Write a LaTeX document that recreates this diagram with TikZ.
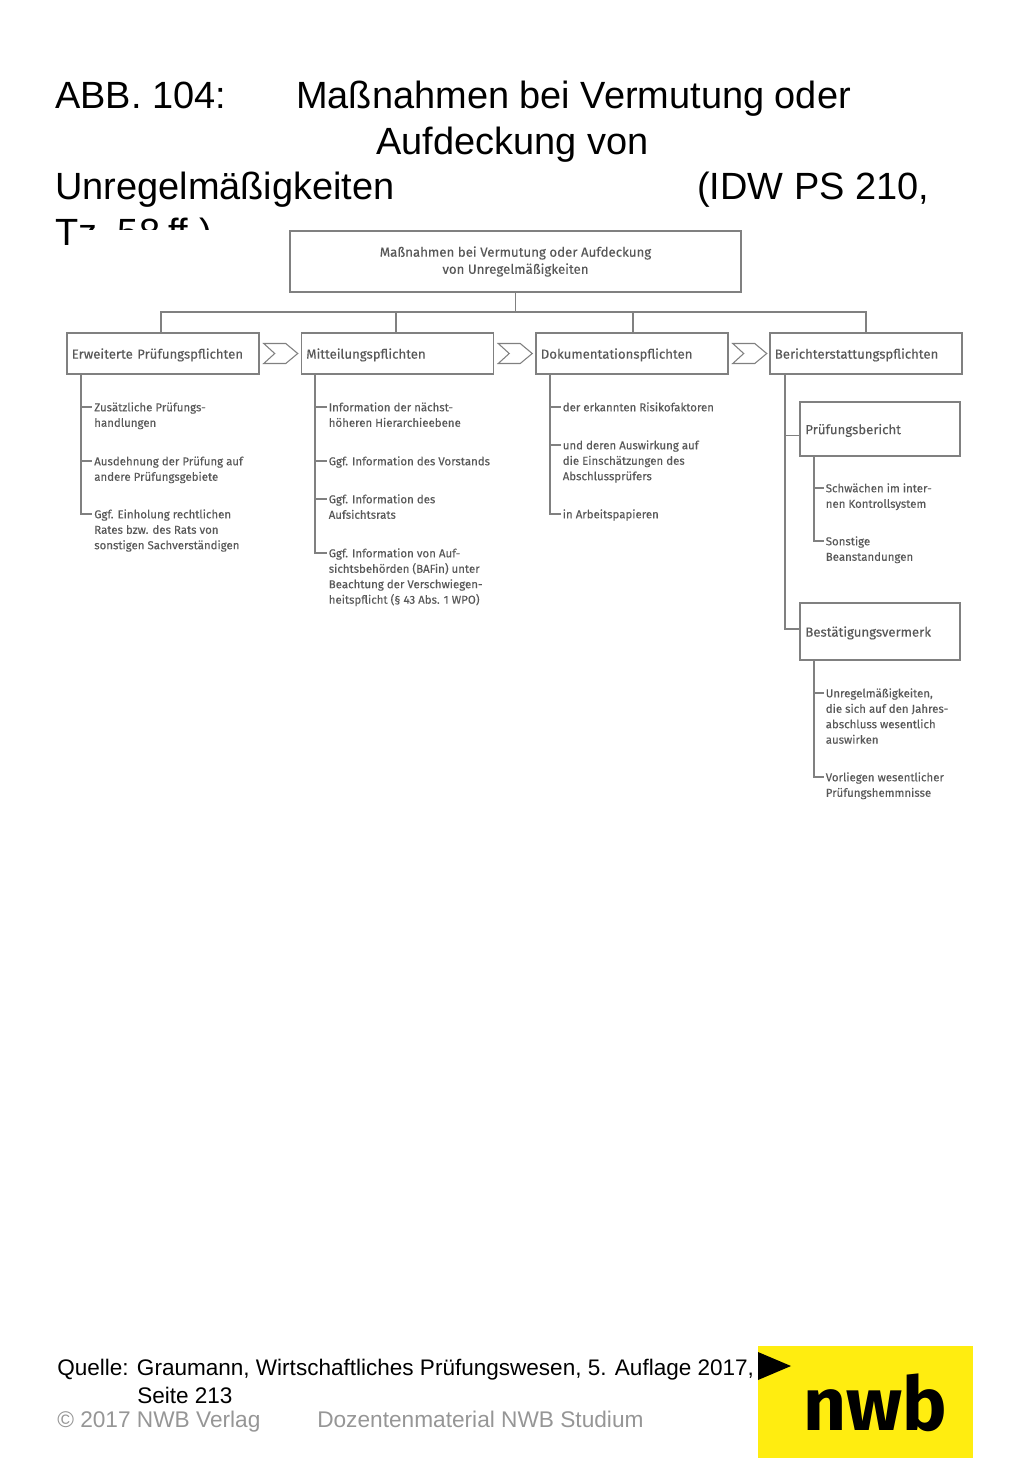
\documentclass[tikz,border=0pt]{standalone}
\usepackage{fontspec}
\usepackage{xcolor}
\usepackage{tikz}
\usetikzlibrary{arrows.meta,calc,positioning}
\setmainfont{Liberation Sans}
\newfontfamily\boxfont[FakeBold=0.2]{Fira Sans}
\newfontfamily\logofont{Fira Sans}
\definecolor{boxline}{HTML}{808080}
\definecolor{boxtext}{HTML}{585858}
\definecolor{footgray}{HTML}{969696}
\definecolor{logoyellow}{HTML}{FFED10}
\tikzset{
  titletext/.style={anchor=base west,inner sep=0pt,font=\fontsize{28.45}{34}\selectfont,text=black},
  sourcetext/.style={anchor=base west,inner sep=0pt,font=\fontsize{16.9}{20}\selectfont,text=black},
  foottext/.style={anchor=base west,inner sep=0pt,font=\fontsize{17}{20}\selectfont,text=footgray},
  rootbox/.style={draw=boxline,line width=1.1pt,minimum width=338pt,minimum height=45.5pt,inner sep=0pt,align=center,font=\boxfont\fontsize{9.95}{12.8}\selectfont,text=boxtext},
  headbox/.style={draw=boxline,line width=1.1pt,minimum width=144pt,minimum height=30.5pt,inner sep=0pt,inner xsep=3.6pt,text width=136.8pt,text depth=0pt,align=left,font=\boxfont\fontsize{9.9}{10}\selectfont,text=boxtext},
  subbox/.style={draw=boxline,line width=1.1pt,minimum width=120pt,inner sep=0pt,inner xsep=4pt,text width=112pt,text depth=0pt,align=left,font=\boxfont\fontsize{9.9}{10}\selectfont,text=boxtext},
  itemtext/.style={anchor=north west,inner sep=0pt,inner xsep=1.5pt,align=left,font=\boxfont\fontsize{8.6}{11.6}\selectfont,text=boxtext},
  conn/.style={draw=boxline,line width=1.1pt},
  chevron/.style={draw=boxline,line width=.8pt,fill=white,line join=miter}
}
\begin{document}
\begin{tikzpicture}[x=.75pt,y=-.75pt]
  \useasboundingbox (0,0) rectangle (1024,1479);
  % heading
  \node[titletext] (tabb) at (55,108) {ABB. 104:};
  \node[titletext] (tmass) at (296,108) {Maßnahmen bei Vermutung oder};
  \node[titletext] (tauf) at (376,154) {Aufdeckung von};
  \node[titletext] (tunr) at (55,199) {Unregelmäßigkeiten};
  \node[titletext] (tidw) at (697,199) {(IDW PS 210,};
  \node[titletext] (ttz) at (55,245) {Tz.\hspace{-3pt} 58\hspace{-2pt} ff.)};
  \fill[white] (72,230) rectangle (1000,262);
  % top of the chart
  \node[rootbox] (root) at (515.5,261.5) {Maßnahmen bei Vermutung oder Aufdeckung\\von Unregelmäßigkeiten};
  \node[headbox] (erw) at (163,353.5) {Erweiterte Prüfungspflichten};
  \node[headbox] (mit) at (397.5,353.5) {Mitteilungspflichten};
  \node[headbox] (dok) at (632,353.5) {Dokumentationspflichten};
  \node[headbox] (ber) at (866,353.5) {Berichterstattungspflichten};
  \coordinate (bus) at (515.5,312);
  \draw[conn] (root.south) -- (bus);
  \foreach \n/\s in {erw/-1.5,mit/-1,dok/.7,ber/0}
    \draw[conn] (bus) -| ([xshift=\s pt]\n.north);
  \foreach \n in {erw,mit,dok}
    \draw[chevron] ($(\n.east)+(4,-10)$) -- ++(22,0) -- ++(12,10) -- ++(-12,10) -- ++(-22,0) -- ++(11,-10) -- cycle;
  % column 1
  \coordinate (erwt) at (81,374);
  \node[itemtext] (ea) at (92,400.2) {\strut Zusätzliche Prüfungs-\\handlungen};
  \node[itemtext] (eb) at (92,454.2) {\strut Ausdehnung der Prüfung auf\\andere Prüfungsgebiete};
  \node[itemtext] (ec) at (92,507.2) {\strut Ggf. Einholung rechtlichen\\Rates bzw. des Rats von\\sonstigen Sachverständigen};
  \foreach \i in {ea,eb,ec}
    \draw[conn] (erwt) |- ([yshift=-5.1pt]\i.north west);
  % column 2
  \coordinate (mitt) at (315,374);
  \node[itemtext] (ma) at (326.5,400.2) {\strut Information der nächst-\\höheren Hierarchieebene};
  \node[itemtext] (mb) at (326.5,454.2) {\strut Ggf. Information des Vorstands};
  \node[itemtext] (mc) at (326.5,492.2) {\strut Ggf. Information des\\Aufsichtsrats};
  \node[itemtext] (md) at (326.5,546.2) {\strut Ggf. Information von Auf-\\sichtsbehörden (BAFin) unter\\Beachtung der Verschwiegen-\\heitspflicht (§ 43 Abs. 1 WPO)};
  \foreach \i in {ma,mb,mc,md}
    \draw[conn] (mitt) |- ([yshift=-5.1pt]\i.north west);
  % column 3
  \coordinate (dokt) at (550,374);
  \node[itemtext] (da) at (560.5,400.2) {\strut der erkannten Risikofaktoren};
  \node[itemtext] (db) at (560.5,438.2) {\strut und deren Auswirkung auf\\die Einschätzungen des\\Abschlussprüfers};
  \node[itemtext] (dc) at (560.5,507.2) {\strut in Arbeitspapieren};
  \foreach \i in {da,db,dc}
    \draw[conn] (dokt) |- ([yshift=-5.1pt]\i.north west);
  % column 4
  \coordinate (bert) at (785,374);
  \node[subbox,minimum height=40.5pt] (pb) at (880,429) {Prüfungsbericht};
  \node[subbox,minimum height=43pt] (bv) at (880,631.5) {Bestätigungsvermerk};
  \draw[conn] (bert) |- ([yshift=-5pt]pb.west);
  \draw[conn] (bert) |- ([yshift=2pt]bv.west);
  \coordinate (pbt) at (814,456);
  \node[itemtext] (pa) at (823.5,481.2) {\strut Schwächen im inter-\\nen Kontrollsystem};
  \node[itemtext] (pc) at (823.5,534.2) {\strut Sonstige\\Beanstandungen};
  \foreach \i in {pa,pc}
    \draw[conn] (pbt) |- ([yshift=-5.1pt]\i.north west);
  \coordinate (bvt) at (814,660);
  \node[itemtext] (ba) at (823.5,686.2) {\strut Unregelmäßigkeiten,\\die sich auf den Jahres-\\abschluss wesentlich\\auswirken};
  \node[itemtext] (bc) at (823.5,770.2) {\strut Vorliegen wesentlicher\\Prüfungshemmnisse};
  \foreach \i in {ba,bc}
    \draw[conn] (bvt) |- ([yshift=-5.1pt]\i.north west);
  % footer
  \node[sourcetext] (quelle) at (57,1375) {Quelle: Graumann, Wirtschaftliches Prüfungswesen, 5. Auflage 2017,};
  \node[sourcetext] (seite) at (137,1403) {Seite 213};
  \node[foottext] (copy) at (57,1427) {© 2017 NWB Verlag};
  \node[foottext] (dozent) at (317,1427) {Dozentenmaterial NWB Studium};
  % logo
  \fill[logoyellow] (758,1346) rectangle (973,1458);
  \fill[black] (758,1352) -- (791,1366) -- (758,1380) -- cycle;
  \node[anchor=base west,inner sep=0pt,font=\logofont\bfseries\fontsize{56}{60}\selectfont,text=black] (logo) at (803,1430) {nwb};
\end{tikzpicture}
\end{document}
